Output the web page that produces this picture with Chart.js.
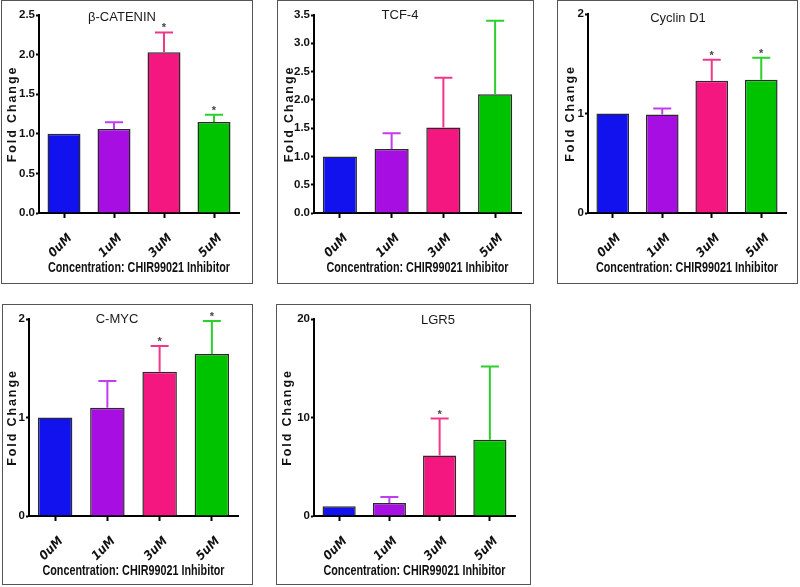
<!DOCTYPE html>
<html>
<head>
<meta charset="utf-8">
<script src="https://cdn.jsdelivr.net/npm/chart.js@4.4.1/dist/chart.umd.min.js"></script>
<style>
  body { margin: 0; background: #fff; width: 800px; height: 587px; position: relative; overflow: hidden; }
  canvas { position: absolute; outline: 1.5px solid #555; }
</style>
</head>
<body>
<canvas id="betaChart"></canvas>
<canvas id="tcfChart"></canvas>
<canvas id="cyclinChart"></canvas>
<canvas id="mycChart"></canvas>
<canvas id="lgrChart"></canvas>
<script>
const categories = ['0uM', '1uM', '3uM', '5uM'];
const xTitle = 'Concentration: CHIR99021 Inhibitor';
const yTitle = 'Fold Change';

// mean fold change + upper SEM for each gene
const betaCatenin = [1.0, 1.06, 2.03, 1.15];
const betaCateninErr = [0, 0.085, 0.25, 0.09];
const betaCateninStars = [false, false, true, true];
const betaCateninTicks = [0, 0.5, 1.0, 1.5, 2.0, 2.5];

const tcf4 = [1.0, 1.13, 1.51, 2.10];
const tcf4Err = [0, 0.28, 0.88, 1.30];
const tcf4Stars = [false, false, false, false];
const tcf4Ticks = [0, 0.5, 1.0, 1.5, 2.0, 2.5, 3.0, 3.5];

const cyclinD1 = [1.0, 0.99, 1.33, 1.34];
const cyclinD1Err = [0, 0.06, 0.21, 0.22];
const cyclinD1Stars = [false, false, true, true];
const cyclinD1Ticks = [0, 1, 2];

const cMyc = [1.0, 1.10, 1.465, 1.645];
const cMycErr = [0, 0.27, 0.26, 0.335];
const cMycStars = [false, false, true, true];
const cMycTicks = [0, 1, 2];

const lgr5 = [1.0, 1.32, 6.14, 7.73];
const lgr5Err = [0, 0.6, 3.75, 7.45];
const lgr5Stars = [false, false, true, false];
const lgr5Ticks = [0, 10, 20];

const barColors = ['#1212ee', '#a60ee2', '#f4177f', '#00c300'];
const errColors = ['#1212ee', '#c23cf0', '#f2368a', '#2cd02c'];
const narrow = "'DejaVu Sans Condensed', sans-serif";
const sans = "'Liberation Sans', Arial, sans-serif";
const xTitleWidth = 182; // the figure uses a narrow face for this line

const errorBars = {
    id: 'errorBars',
    afterDatasetsDraw(chart) {
        const ctx = chart.ctx;
        const y = chart.scales.y;
        const ds = chart.data.datasets[0];
        chart.getDatasetMeta(0).data.forEach((bar, i) => {
            const e = ds.errors[i];
            const top = y.getPixelForValue(ds.data[i] + e);
            ctx.save();
            if (e > 0) {
                ctx.strokeStyle = errColors[i];
                ctx.lineWidth = 2;
                ctx.beginPath();
                ctx.moveTo(bar.x, bar.y);
                ctx.lineTo(bar.x, top);
                ctx.moveTo(bar.x - 9, top);
                ctx.lineTo(bar.x + 9, top);
                ctx.stroke();
            }
            if (ds.stars[i]) {
                ctx.fillStyle = '#444';
                ctx.font = "bold 11px 'Liberation Sans'";
                ctx.textAlign = 'center';
                ctx.textBaseline = 'alphabetic';
                ctx.fillText('*', bar.x, top - 1);
            }
            ctx.restore();
        });
    }
};

const panelTitle = {
    id: 'panelTitle',
    afterDraw(chart, args, opts) {
        const ctx = chart.ctx;
        ctx.save();
        ctx.font = "13px 'Liberation Sans'";
        ctx.fillStyle = '#1a1a1a';
        ctx.textAlign = 'center';
        ctx.textBaseline = 'middle';
        ctx.fillText(opts.text, opts.x, opts.y);
        ctx.restore();
    }
};

// y title is letter-spaced, x title is condensed
const axisTitleStyle = {
    id: 'axisTitleStyle',
    beforeDraw(chart) {
        const sy = chart.scales.y;
        if (!sy._styled) {
            const origY = sy.drawTitle;
            sy.drawTitle = function () {
                this.ctx.save();
                this.ctx.letterSpacing = '1.9px';
                origY.call(this);
                this.ctx.restore();
            };
            sy._styled = true;
        }
        const sx = chart.scales.x;
        if (!sx._styled) {
            const origX = sx.drawTitle;
            sx.drawTitle = function () {
                const c = this.ctx;
                c.save();
                c.font = Chart.helpers.toFont(this.options.title.font).string;
                const w = Math.min(c.measureText(this.options.title.text).width, this.right - this.left);
                const cx = (this.left + this.right) / 2;
                c.translate(cx, 0);
                c.scale(xTitleWidth / w, 1);
                c.translate(-cx, 0);
                origX.call(this);
                c.restore();
            };
            sx._styled = true;
        }
    }
};

function makePanel(id, pos, name, values, errs, stars, ticks, decimals) {
    const canvas = document.getElementById(id);
    canvas.width = pos.w;
    canvas.height = pos.h;
    canvas.style.left = pos.x + 'px';
    canvas.style.top = pos.y + 'px';
    return new Chart(canvas, {
        type: 'bar',
        data: {
            labels: categories,
            datasets: [{
                data: values,
                errors: errs,
                stars: stars,
                backgroundColor: barColors,
                borderColor: '#2a2a2a',
                borderWidth: 1.5,
                barPercentage: 0.66,
                categoryPercentage: 1
            }]
        },
        options: {
            responsive: false,
            animation: false,
            layout: { padding: { left: 0, right: pos.padR, top: pos.padT, bottom: 0 } },
            plugins: {
                legend: { display: false },
                tooltip: { enabled: false },
                panelTitle: { text: name, x: pos.tx, y: pos.ty }
            },
            scales: {
                x: {
                    grid: { display: true, drawOnChartArea: false, offset: false, tickLength: 5, tickWidth: 2, tickColor: '#000' },
                    border: { display: true, color: '#000', width: 2 },
                    ticks: { maxRotation: 45, minRotation: 45, color: '#111', padding: 13, labelOffset: 6,
                             font: { family: narrow, size: 12.5, weight: 'bold', style: 'italic' } },
                    title: { display: true, text: xTitle, color: '#111', padding: { top: pos.xtp, bottom: pos.xtp },
                             font: { family: sans, size: 14, weight: 'bold' } },
                    afterFit: s => { s.height = pos.xH; }
                },
                y: {
                    min: 0,
                    max: ticks[ticks.length - 1],
                    afterBuildTicks: s => { s.ticks = ticks.map(v => ({ value: v })); },
                    grid: { drawOnChartArea: false, tickLength: 3, tickWidth: 2, tickColor: '#000' },
                    border: { display: true, color: '#000', width: 2 },
                    ticks: { color: '#111', padding: 1, callback: v => v.toFixed(decimals),
                             font: { family: sans, size: 11.5, weight: 'bold' } },
                    title: { display: true, text: yTitle, color: '#111', padding: { top: pos.ytp, bottom: pos.ytp },
                             font: { family: sans, size: 12.5, weight: 'bold' } },
                    afterFit: s => { s.width = pos.yW; }
                }
            }
        },
        plugins: [errorBars, panelTitle, axisTitleStyle]
    });
}

makePanel('betaChart', { x: 2, y: 1, w: 250, h: 282, yW: 37, padR: 13, padT: 14, xH: 70, xtp: 6.5, ytp: 3, tx: 120, ty: 16 },
    'β-CATENIN', betaCatenin, betaCateninErr, betaCateninStars, betaCateninTicks, 1);
makePanel('tcfChart', { x: 278, y: 1, w: 255, h: 282, yW: 36, padR: 12, padT: 14, xH: 70, xtp: 6.5, ytp: 4, tx: 122, ty: 14 },
    'TCF-4', tcf4, tcf4Err, tcf4Stars, tcf4Ticks, 1);
makePanel('cyclinChart', { x: 558, y: 1, w: 239, h: 282, yW: 30, padR: 11, padT: 13, xH: 70, xtp: 6.5, ytp: 5, tx: 120, ty: 17 },
    'Cyclin D1', cyclinD1, cyclinD1Err, cyclinD1Stars, cyclinD1Ticks, 0);
makePanel('mycChart', { x: 3, y: 305, w: 249, h: 279, yW: 26, padR: 14, padT: 14, xH: 68, xtp: 4, ytp: 2, tx: 114, ty: 14 },
    'C-MYC', cMyc, cMycErr, cMycStars, cMycTicks, 0);
makePanel('lgrChart', { x: 277, y: 305, w: 253, h: 279, yW: 37, padR: 15, padT: 14, xH: 68, xtp: 4, ytp: 3, tx: 161, ty: 15 },
    'LGR5', lgr5, lgr5Err, lgr5Stars, lgr5Ticks, 0);
</script>
</body>
</html>
